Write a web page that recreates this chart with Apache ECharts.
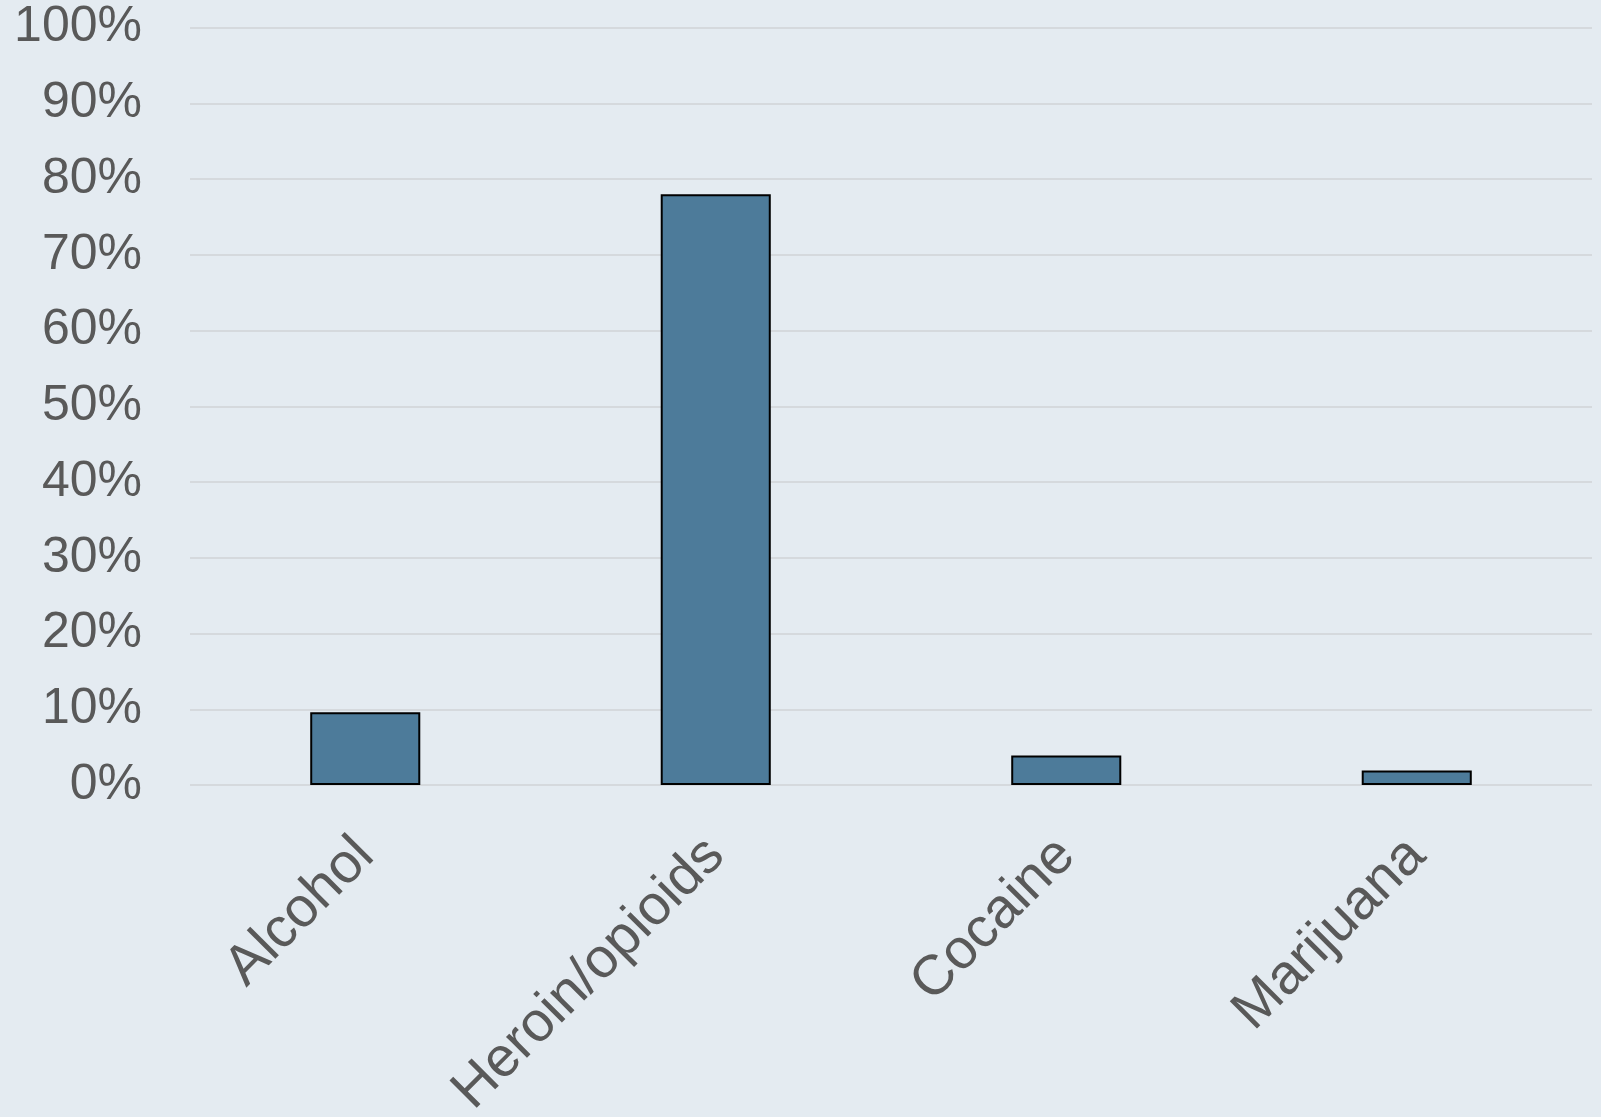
<!DOCTYPE html>
<html>
<head>
<meta charset="utf-8">
<style>
html,body{margin:0;padding:0;background:#e4ebf1;}
#chart{width:1601px;height:1117px;}
</style>
<script src="https://cdn.jsdelivr.net/npm/echarts@6/dist/echarts.min.js"></script>
</head>
<body>
<div id="chart"></div>
<script>
const categories = ['Alcohol', 'Heroin/opioids', 'Cocaine', 'Marijuana'];
const shares = [9.6, 78.0, 3.9, 1.9];
const yTicks = { min: 0, max: 100, interval: 10 };

const chart = echarts.init(document.getElementById('chart'), null, { renderer: 'canvas' });
chart.setOption({
  backgroundColor: '#e4ebf1',
  animation: false,
  grid: { left: 190, right: 9, top: 27.5, bottom: 332, containLabel: false, outerBoundsMode: 'none' },
  xAxis: {
    type: 'category',
    data: categories,
    axisLine: { show: false },
    axisTick: { show: false },
    axisLabel: {
      rotate: 45,
      interval: 0,
      margin: 62,
      color: '#595959',
      fontSize: 56,
      fontFamily: 'Liberation Sans, Arial, sans-serif'
    }
  },
  yAxis: {
    type: 'value',
    min: yTicks.min,
    max: yTicks.max,
    interval: yTicks.interval,
    axisLine: { show: false },
    axisTick: { show: false },
    axisLabel: {
      formatter: '{value}%',
      margin: 48,
      color: '#595959',
      fontSize: 50,
      fontFamily: 'Liberation Sans, Arial, sans-serif'
    },
    splitLine: { lineStyle: { color: '#d5d9dd', width: 2 } }
  },
  series: [{
    type: 'bar',
    data: shares,
    barWidth: '31.4%',
    itemStyle: { color: '#4d7b9a', borderColor: '#000000', borderWidth: 2 }
  }]
});
</script>
</body>
</html>
